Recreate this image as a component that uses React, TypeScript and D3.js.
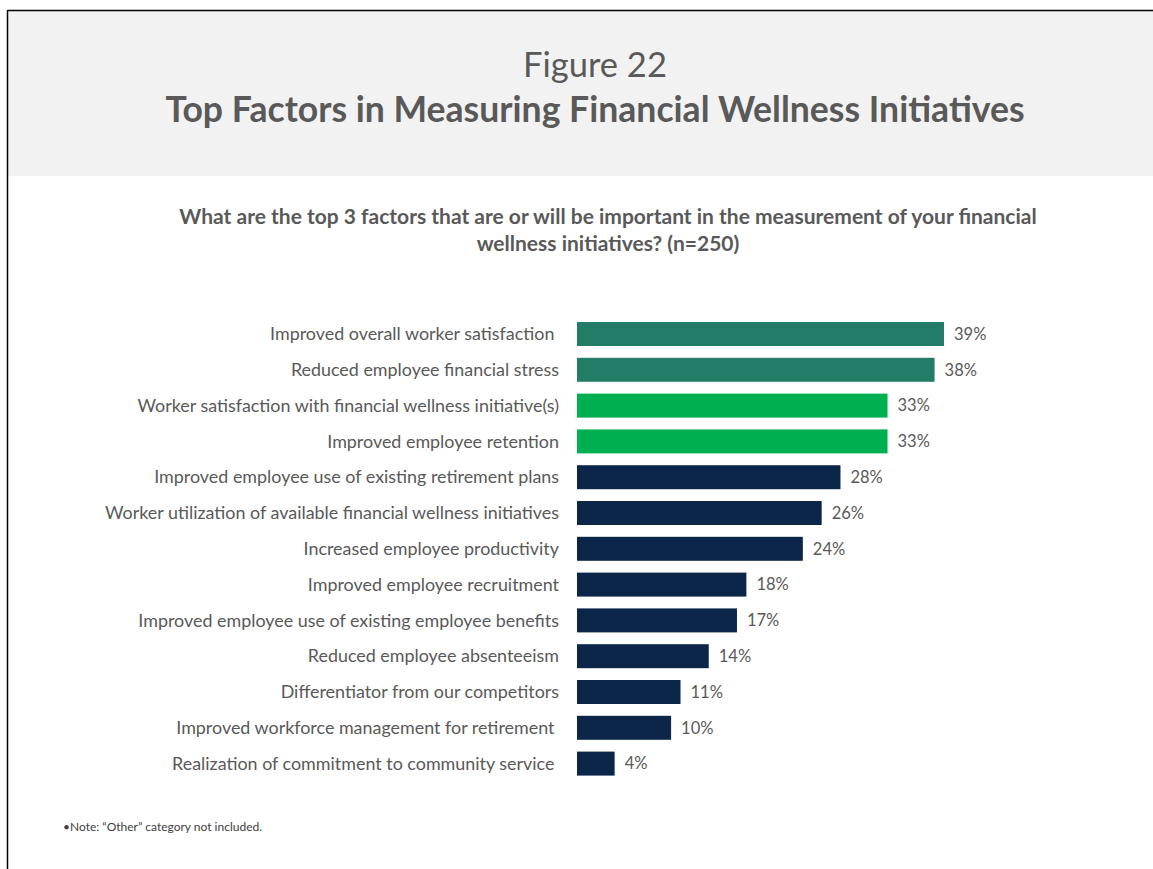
import React from "react";
import * as d3 from "d3";

const categories = [
  "Improved overall worker satisfaction ",
  "Reduced employee financial stress",
  "Worker satisfaction with financial wellness initiative(s)",
  "Improved employee retention",
  "Improved employee use of existing retirement plans",
  "Worker utilization of available financial wellness initiatives",
  "Increased employee productivity",
  "Improved employee recruitment",
  "Improved employee use of existing employee benefits",
  "Reduced employee absenteeism",
  "Differentiator from our competitors",
  "Improved workforce management for retirement ",
  "Realization of commitment to community service ",
];
const values = [39, 38, 33, 33, 28, 26, 24, 18, 17, 14, 11, 10, 4];
const groups = ["top", "top", "mid", "mid", "rest", "rest", "rest", "rest", "rest", "rest", "rest", "rest", "rest"];
const groupColors: Record<string, string> = { top: "#237C65", mid: "#00B050", rest: "#0B2649" };

const W = 1153;
const H = 869;
const FONT = "Lato, 'Open Sans', sans-serif";
const TEXT = "#595959";

export default function App() {
  const y = d3
    .scaleBand<string>()
    .domain(categories)
    .range([310.2, 787.4])
    .padding(0.33);
  const x = d3.scaleLinear().domain([0, 40]).range([577, 953.4]);

  return (
    <svg
      width={W}
      height={H}
      style={{ position: "absolute", left: 0, top: 0, background: "#fff" }}
      fontFamily={FONT}
    >
      <rect x={8} y={11} width={W - 8} height={165} fill="#F2F2F2" />
      <line x1={7.5} y1={10.5} x2={W} y2={10.5} stroke="#000" strokeWidth={1.5} />
      <line x1={7.5} y1={10} x2={7.5} y2={H} stroke="#000" strokeWidth={1.5} />

      <text x={595} y={77} textAnchor="middle" fontSize={34.5} fill={TEXT}>
        Figure 22
      </text>
      <text x={595} y={122} textAnchor="middle" fontSize={35.6} fontWeight="bold" fill={TEXT}>
        Top Factors in Measuring Financial Wellness Initiatives
      </text>

      <text x={608} y={224} textAnchor="middle" fontSize={21} fontWeight="bold" fill={TEXT}>
        What are the top 3 factors that are or will be important in the measurement of your financial
      </text>
      <text x={608} y={251} textAnchor="middle" fontSize={21} fontWeight="bold" fill={TEXT}>
        wellness initiatives? (n=250)
      </text>

      {categories.map((c, i) => {
        const by = y(c)!;
        const bh = y.bandwidth();
        return (
          <g key={c}>
            <text
              x={559}
              y={by + bh / 2}
              dy="0.35em"
              textAnchor="end"
              fontSize={17.9}
              fill={TEXT}
              style={{ whiteSpace: "pre" }}
            >
              {c}
            </text>
            <rect x={x(0)} y={by} width={x(values[i]) - x(0)} height={bh} fill={groupColors[groups[i]]} />
            <text x={x(values[i]) + 10} y={by + bh / 2} dy="0.35em" fontSize={16.5} fill={TEXT}>
              {values[i]}%
            </text>
          </g>
        );
      })}

      <text x={63} y={831} fontSize={12} fill="#404040">
        •Note: “Other” category not included.
      </text>
    </svg>
  );
}
